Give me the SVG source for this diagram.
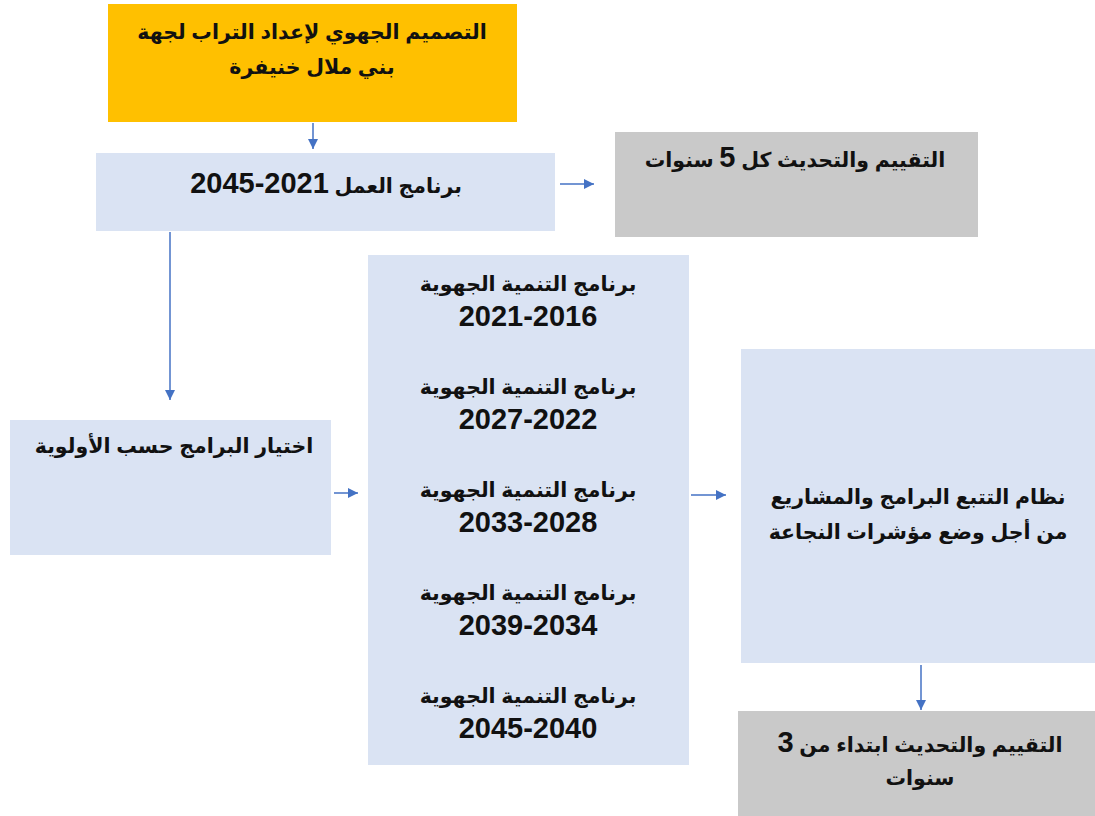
<svg xmlns="http://www.w3.org/2000/svg" width="1095" height="816" viewBox="0 0 1095 816">
<style>
.t{font-family:"Liberation Sans","DejaVu Sans",sans-serif;font-weight:bold;font-size:20.5px;fill:#111;text-anchor:middle;direction:rtl}
.n{font-size:29px}
.blue{fill:#DAE3F3}
.gray{fill:#C9C9C9}
.conn{stroke:#4472C4;stroke-width:1.5;fill:none;marker-end:url(#ah)}
</style>
<defs>
<marker id="ah" viewBox="0 0 10 10" refX="10" refY="5" markerWidth="10" markerHeight="10" markerUnits="userSpaceOnUse" orient="auto">
<path d="M0,0 L10,5 L0,10 z" fill="#4472C4"/>
</marker>
</defs>
<rect width="1095" height="816" fill="#fff"/>
<g id="n1">
<rect x="108" y="4" width="409" height="118" fill="#FFC000"/>
<text class="t" x="312" y="39">التصميم الجهوي لإعداد التراب لجهة</text>
<text class="t" x="312" y="74">بني ملال خنيفرة</text>
</g>
<g id="n2">
<rect class="blue" x="96" y="153" width="459" height="78"/>
<text class="t" x="326" y="193">برنامج العمل <tspan class="n">2021-2045</tspan></text>
</g>
<g id="n3">
<rect class="gray" x="615" y="132" width="363" height="105"/>
<text class="t" x="795" y="167">التقييم والتحديث كل <tspan class="n">5</tspan> سنوات</text>
</g>
<g id="n4">
<rect class="blue" x="10" y="420" width="321" height="135"/>
<text class="t" x="174" y="453">اختيار البرامج حسب الأولوية</text>
</g>
<g id="n5">
<rect class="blue" x="368" y="255" width="321" height="510"/>
<text class="t" x="528" y="291">برنامج التنمية الجهوية</text>
<text class="t n" x="528" y="326">2021-2016</text>
<text class="t" x="528" y="394">برنامج التنمية الجهوية</text>
<text class="t n" x="528" y="429">2027-2022</text>
<text class="t" x="528" y="497">برنامج التنمية الجهوية</text>
<text class="t n" x="528" y="532">2033-2028</text>
<text class="t" x="528" y="600">برنامج التنمية الجهوية</text>
<text class="t n" x="528" y="635">2039-2034</text>
<text class="t" x="528" y="703">برنامج التنمية الجهوية</text>
<text class="t n" x="528" y="738">2045-2040</text>
</g>
<g id="n6">
<rect class="blue" x="741" y="349" width="354" height="314"/>
<text class="t" x="918" y="504">نظام التتبع البرامج والمشاريع</text>
<text class="t" x="918" y="539">من أجل وضع مؤشرات النجاعة</text>
</g>
<g id="n7">
<rect class="gray" x="738" y="711" width="357" height="105"/>
<text class="t" x="920" y="752">التقييم والتحديث ابتداء من <tspan class="n">3</tspan></text>
<text class="t" x="920" y="785">سنوات</text>
</g>
<g id="connectors">
<line class="conn" x1="313" y1="123" x2="313" y2="149"/>
<line class="conn" x1="560" y1="184" x2="594" y2="184"/>
<line class="conn" x1="170" y1="232" x2="170" y2="400"/>
<line class="conn" x1="334" y1="493" x2="358" y2="493"/>
<line class="conn" x1="691" y1="495" x2="726" y2="495"/>
<line class="conn" x1="921" y1="665" x2="921" y2="710"/>
</g>
</svg>
